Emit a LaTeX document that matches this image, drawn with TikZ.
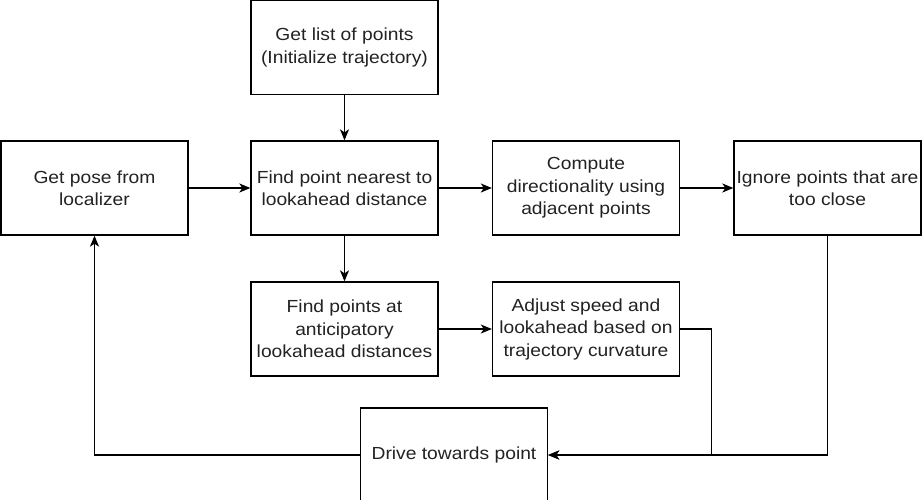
\documentclass[tikz,border=0pt]{standalone}
\usepackage{fontspec}
\setmainfont{Liberation Sans}[FakeStretch=1.1]
\usetikzlibrary{arrows.meta}
\definecolor{txt}{HTML}{222222}
\begin{document}
\begin{tikzpicture}[x=1pt,y=-1pt,
  box/.style={draw=black, line width=1.3pt, minimum width=187pt, minimum height=94pt,
    inner sep=0pt, align=center, text=txt, font=\fontsize{17.5}{22.5}\selectfont},
  conn/.style={draw=black, line width=1.3pt, -{Stealth[length=11pt,width=9pt,inset=3pt]}},
  plain/.style={draw=black, line width=1.3pt}]
\useasboundingbox (0,0) rectangle (922,499);
\node[box] (list) at (344.5,47.5) {Get list of points\\(Initialize trajectory)};
\node[box] (pose) at (94.5,188) {Get pose from\\localizer};
\node[box] (near) at (344.5,188) {Find point nearest to\\lookahead distance};
\node[box] (comp) at (586,188) {Compute\\directionality using\\adjacent points};
\node[box] (ign) at (827.5,188) {Ignore points that are\\too close};
\node[box] (pts) at (344.5,329) {Find points at\\anticipatory\\lookahead distances};
\node[box] (adj) at (586,329) {Adjust speed and\\lookahead based on\\trajectory curvature};
\node[box] (drive) at (454,455) {Drive towards point};
\draw[conn] (list) -- (near);
\draw[conn] (pose) -- (near);
\draw[conn] (near) -- (comp);
\draw[conn] (comp) -- (ign);
\draw[conn] (near) -- (pts);
\draw[conn] (pts) -- (adj);
\draw[conn] (adj.east) -- ++(31,0) |- (drive.east);
\draw[conn] (ign.south) |- (drive.east);
\draw[conn] (drive.west) -| (pose.south);
\end{tikzpicture}
\end{document}
